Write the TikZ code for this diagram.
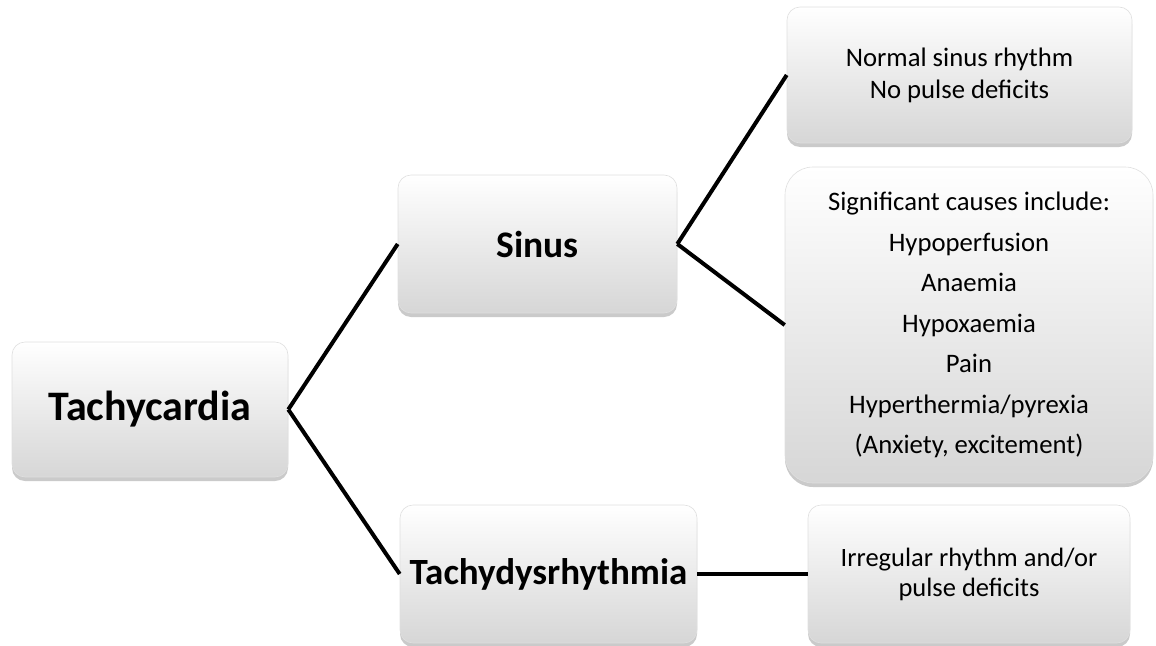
\documentclass[tikz,border=0pt]{standalone}
\usepackage{fontspec}
\setmainfont{Carlito}
\usetikzlibrary{shadows}
\tikzset{
  box/.style={rectangle, rounded corners=13pt, top color=white, bottom color=gray!32,
    draw=gray!25, line width=0.6pt, align=center, inner sep=0pt,
    drop shadow={shadow xshift=0pt, shadow yshift=-4pt, fill=gray!70, opacity=0.6}},
  conn/.style={line width=4pt, black},
}
\begin{document}
\begin{tikzpicture}[x={(1pt,0)}, y={(0,-1pt)}]
\useasboundingbox (0,0) rectangle (1156,645);
\node[box, minimum width=276pt, minimum height=135pt, font=\fontsize{42}{48}\selectfont\bfseries] (tach) at (150,409.5) {Tachycardia};
\node[box, minimum width=279pt, minimum height=138pt, font=\fontsize{37.5}{44}\selectfont\bfseries] (sinus) at (537.5,244) {Sinus};
\node[box, minimum width=297pt, minimum height=138pt, font=\fontsize{37}{44}\selectfont\bfseries] (tdys) at (548.5,574) {Tachydysrhythmia};
\node[box, minimum width=345pt, minimum height=136pt, font=\fontsize{26.7}{32}\selectfont] (normal) at (959.5,75) {Normal sinus rhythm\\No pulse deficits};
\node[box, rounded corners=28pt, minimum width=368pt, minimum height=316pt, font=\fontsize{26.7}{40.5}\selectfont] (sig) at (969,325) {Significant causes include:\\Hypoperfusion\\Anaemia\\Hypoxaemia\\Pain\\Hyperthermia/pyrexia\\(Anxiety, excitement)};
\node[box, minimum width=322pt, minimum height=138pt, font=\fontsize{26.5}{30}\selectfont] (irr) at (969,574) {Irregular rhythm and/or\\pulse deficits};
\draw[conn] (tach.east) -- (sinus.west);
\draw[conn] (tach.east) -- (tdys.west);
\draw[conn] (sinus.east) -- (normal.west);
\draw[conn] (sinus.east) -- (sig.west);
\draw[conn] (tdys.east) -- (irr.west);
\end{tikzpicture}
\end{document}
